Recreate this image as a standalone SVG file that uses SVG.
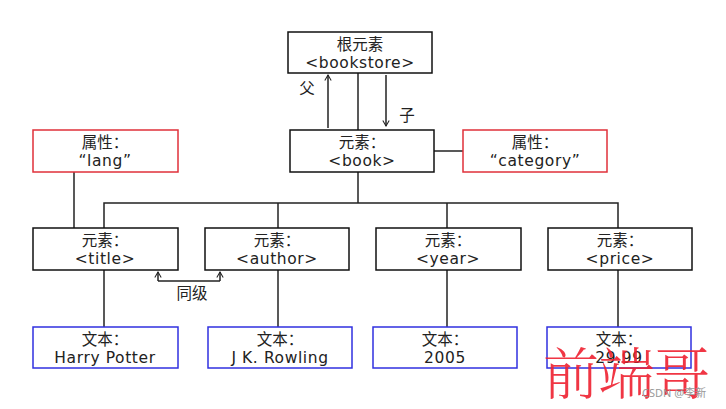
<svg xmlns="http://www.w3.org/2000/svg" width="726" height="409" viewBox="0 0 726 409">
<style>
.box{fill:#fff;stroke:#111;stroke-width:1.5}
.attr{fill:#fff;stroke:#e0303a;stroke-width:1.5}
.txt{fill:#fff;stroke:#3030e0;stroke-width:1.5}
.t{font-family:"DejaVu Sans","Noto Sans CJK SC",sans-serif;font-size:15.5px;fill:#222;text-anchor:middle}
.l{letter-spacing:0.6px}
.c{fill:none;stroke:#222;stroke-width:1.5}
</style>
<defs>
<marker id="ah" viewBox="0 0 10 10" refX="9" refY="5" markerWidth="8" markerHeight="8" orient="auto" markerUnits="userSpaceOnUse">
<path d="M2,1 L9,5 L2,9" fill="none" stroke="#222" stroke-width="1.3"/>
</marker>
</defs>
<rect width="726" height="409" fill="#fff"/>
<g id="connectors">
<line class="c" x1="358" y1="73" x2="358" y2="130"/>
<line class="c" x1="328" y1="128" x2="328" y2="75" marker-end="url(#ah)"/>
<line class="c" x1="386" y1="75" x2="386" y2="126" marker-end="url(#ah)"/>
<line class="c" x1="434" y1="151" x2="463" y2="151"/>
<line class="c" x1="74" y1="172" x2="74" y2="228"/>
<line class="c" x1="358" y1="172" x2="358" y2="203"/>
<polyline class="c" points="104,228 104,203 618,203 618,228"/>
<line class="c" x1="278" y1="203" x2="278" y2="228"/>
<line class="c" x1="447" y1="203" x2="447" y2="228"/>
<line class="c" x1="104" y1="270" x2="104" y2="327"/>
<line class="c" x1="278" y1="270" x2="278" y2="327"/>
<line class="c" x1="447" y1="270" x2="447" y2="327"/>
<line class="c" x1="618" y1="270" x2="618" y2="327"/>
<polyline class="c" points="158,281 220,281" stroke-width="1.2"/>
<line class="c" x1="158" y1="281" x2="158" y2="272" stroke-width="1.2" marker-end="url(#ah)"/>
<line class="c" x1="220" y1="281" x2="220" y2="272" stroke-width="1.2" marker-end="url(#ah)"/>
<text class="t" x="307" y="94">父</text>
<text class="t" x="407" y="121">子</text>
<text class="t" x="192" y="299" font-size="14">同级</text>
</g>
<g id="root"><rect class="box" x="288" y="32" width="144" height="41"/><text class="t" x="360" y="50">根元素</text><text class="t l" x="360" y="68">&lt;bookstore&gt;</text></g>
<g id="book"><rect class="box" x="290" y="130" width="144" height="42"/><text class="t" x="362" y="148">元素：</text><text class="t l" x="362" y="166">&lt;book&gt;</text></g>
<g id="lang"><rect class="attr" x="33" y="130" width="145" height="42"/><text class="t" x="105" y="148">属性：</text><text class="t l" x="105" y="166">“lang”</text></g>
<g id="category"><rect class="attr" x="463" y="130" width="144" height="42"/><text class="t" x="535" y="148">属性：</text><text class="t l" x="535" y="166">“category”</text></g>
<g id="title"><rect class="box" x="33" y="228" width="145" height="42"/><text class="t" x="105" y="246">元素：</text><text class="t l" x="105" y="264">&lt;title&gt;</text></g>
<g id="author"><rect class="box" x="205" y="228" width="144" height="42"/><text class="t" x="277" y="246">元素：</text><text class="t l" x="277" y="264">&lt;author&gt;</text></g>
<g id="year"><rect class="box" x="376" y="228" width="145" height="42"/><text class="t" x="448" y="246">元素：</text><text class="t l" x="448" y="264">&lt;year&gt;</text></g>
<g id="price"><rect class="box" x="548" y="228" width="144" height="42"/><text class="t" x="620" y="246">元素：</text><text class="t l" x="620" y="264">&lt;price&gt;</text></g>
<g id="text-title"><rect class="txt" x="33" y="327" width="145" height="41"/><text class="t" x="105" y="345">文本：</text><text class="t l" x="105" y="363">Harry Potter</text></g>
<g id="text-author"><rect class="txt" x="208" y="327" width="144" height="41"/><text class="t" x="280" y="345">文本：</text><text class="t l" x="280" y="363">J K. Rowling</text></g>
<g id="text-year"><rect class="txt" x="373" y="327" width="144" height="41"/><text class="t" x="445" y="345">文本：</text><text class="t l" x="445" y="363">2005</text></g>
<g id="text-price"><rect class="txt" x="547" y="327" width="144" height="41"/><text class="t" x="619" y="345">文本：</text><text class="t l" x="619" y="363">29.99</text></g>
<g id="watermark">
<text x="543" y="394" font-family="'Noto Serif CJK SC','Noto Sans CJK SC',serif" font-size="56" font-weight="300" fill="#ee2030" fill-opacity="0.9" textLength="167">前端哥</text>
<text x="642" y="397" font-family="'Noto Sans','Noto Sans CJK SC',sans-serif" font-size="11" fill="#999">CSDN @李新</text>
</g>
</svg>
